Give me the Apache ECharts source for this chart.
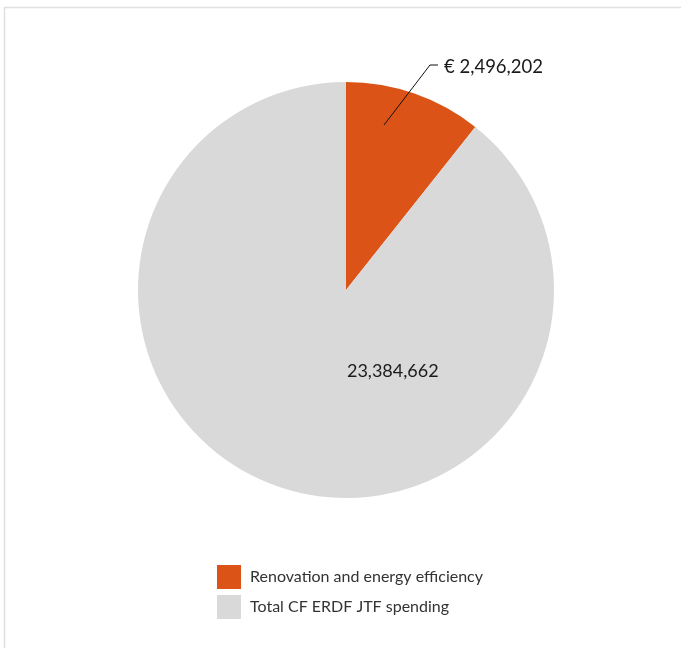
<!DOCTYPE html>
<html>
<head>
<meta charset="utf-8">
<script src="https://cdn.jsdelivr.net/npm/echarts@6/dist/echarts.min.js"></script>
<style>
html,body{margin:0;padding:0;background:#fff;}
#c{width:681px;height:648px;}
</style>
</head>
<body>
<div id="c"></div>
<script>
var categories = ['Renovation and energy efficiency', 'Total CF ERDF JTF spending'];
var renovationValue = 2496202;
var totalValue = 23384662;
var colors = ['#dc5317', '#d9d9d9'];

var remainder = totalValue - renovationValue;
function fmt(v){ return v.toLocaleString('en-US'); }

var CX = 346, CY = 290, R = 208;

var chart = echarts.init(document.getElementById('c'), null, {renderer:'canvas'});
chart.setOption({
  animation: false,
  textStyle: {fontFamily: 'Lato'},
  graphic: [{
    type: 'rect',
    shape: {x: 4.5, y: 7.5, width: 700, height: 700},
    style: {fill: 'none', stroke: '#e0e0e0', lineWidth: 1.5},
    silent: true
  }, {
    type: 'polyline',
    z: 100,
    shape: {points: [[CX + 38, CY - 165], [CX + 84, CY - 225], [CX + 92, CY - 225]]},
    style: {fill: 'none', stroke: '#111', lineWidth: 1},
    silent: true
  }],
  legend: {
    orient: 'vertical',
    left: 212,
    top: 560,
    itemWidth: 24,
    itemHeight: 24,
    itemGap: 6,
    icon: 'rect',
    textStyle: {fontFamily: 'Lato', fontSize: 16, color: '#333', padding: [0, 0, 0, 4]},
    data: categories
  },
  series: [{
    type: 'pie',
    center: [CX, CY],
    radius: [0, R],
    startAngle: 90,
    clockwise: true,
    silent: true,
    avoidLabelOverlap: false,
    itemStyle: {borderWidth: 0},
    labelLayout: function(params){
      if (params.dataIndex !== 0) return {};
      return { x: CX + 98, y: CY - 223, align: 'left', verticalAlign: 'middle' };
    },
    data: [
      {
        name: categories[0], value: renovationValue,
        itemStyle: {color: colors[0]},
        label: {
          show: true, position: 'outside',
          formatter: function(){ return '€ ' + fmt(renovationValue); },
          fontFamily: 'Lato', fontSize: 18.5, color: '#1a1a1a'
        },
        labelLine: {show: false}
      },
      {
        name: categories[1], value: remainder,
        itemStyle: {color: colors[1]},
        label: {
          show: true, position: 'inside',
          formatter: function(){ return fmt(totalValue); },
          fontFamily: 'Lato', fontSize: 18, color: '#1a1a1a',
          offset: [82, -20]
        },
        labelLine: {show: false}
      }
    ]
  }]
});
</script>
</body>
</html>
